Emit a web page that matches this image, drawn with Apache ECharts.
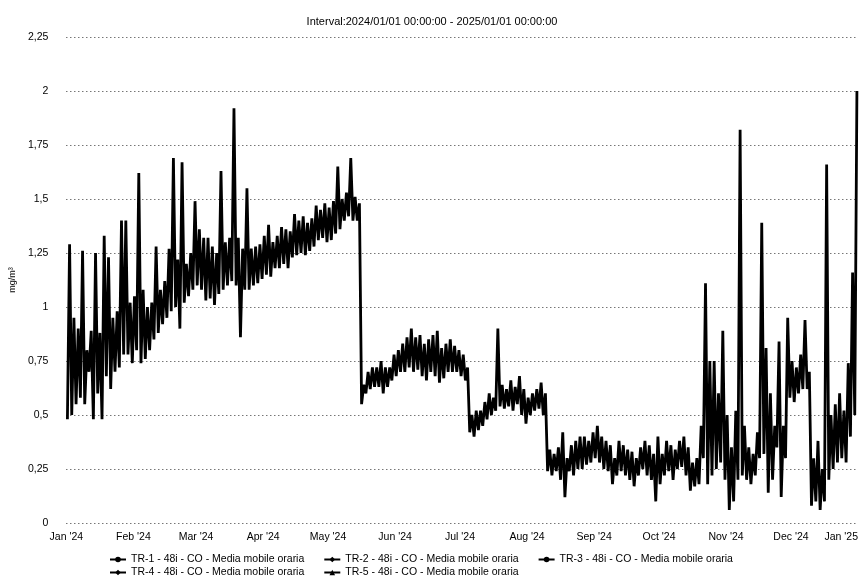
<!DOCTYPE html>
<html>
<head>
<meta charset="utf-8">
<script src="https://cdn.jsdelivr.net/npm/echarts@6/dist/echarts.min.js"></script>
<style>
  html, body { margin: 0; padding: 0; background: #fff; }
  #main { width: 864px; height: 588px; }
</style>
</head>
<body>
<div id="main"></div>
<script>
// 2-day bins from 2024-01-01: low and high of the hourly moving average (mg/m³)
const lowValues = [
  0.48, 0.5, 0.55, 0.58, 0.55, 0.7, 0.48, 0.6, 0.48, 0.68,
  0.62, 0.7, 0.72, 0.78, 0.78, 0.74, 0.8, 0.74, 0.76, 0.8,
  0.85, 0.88, 0.92, 0.95, 0.98, 1.0, 0.9, 1.02, 1.05, 1.08,
  1.1, 1.08, 1.03, 1.04, 1.01, 1.06, 1.08, 1.1, 1.12, 1.1,
  0.86, 1.08, 1.08, 1.1, 1.11, 1.13, 1.15, 1.14, 1.18, 1.18,
  1.2, 1.18, 1.23, 1.24, 1.25, 1.24, 1.26, 1.28, 1.31, 1.32,
  1.3, 1.31, 1.34, 1.36, 1.4, 1.42, 1.4, 1.4, 0.55, 0.6,
  0.62, 0.63, 0.63, 0.6, 0.63, 0.66, 0.68, 0.7, 0.7, 0.72,
  0.7, 0.71, 0.68, 0.66, 0.7, 0.68, 0.65, 0.67, 0.7, 0.7,
  0.7, 0.68, 0.66, 0.42, 0.4, 0.43, 0.45, 0.48, 0.5, 0.52,
  0.54, 0.53, 0.54, 0.52, 0.55, 0.5, 0.46, 0.5, 0.52, 0.53,
  0.5, 0.24, 0.22, 0.24, 0.2, 0.12, 0.24, 0.22, 0.25, 0.25,
  0.27, 0.28, 0.3, 0.28, 0.25, 0.24, 0.18, 0.22, 0.24, 0.22,
  0.2, 0.17, 0.22, 0.25, 0.22, 0.2, 0.1, 0.18, 0.22, 0.24,
  0.2, 0.25, 0.26, 0.22, 0.15, 0.17, 0.18, 0.3, 0.18, 0.22,
  0.25, 0.28, 0.2, 0.06, 0.1, 0.2, 0.22, 0.2, 0.18, 0.22,
  0.3, 0.32, 0.14, 0.2, 0.35, 0.12, 0.3, 0.58, 0.56, 0.6,
  0.62, 0.62, 0.08, 0.1, 0.06, 0.1, 0.2, 0.25, 0.28, 0.3,
  0.28, 0.4, 0.5
]
const highValues = [
  1.29, 0.95, 0.9, 1.26, 0.8, 0.89, 1.25, 0.88, 1.33, 1.23,
  0.95, 0.98, 1.4, 1.4, 1.02, 1.05, 1.62, 1.08, 1.0, 1.02,
  1.28, 1.08, 1.12, 1.27, 1.69, 1.22, 1.67, 1.2, 1.25, 1.49,
  1.36, 1.32, 1.32, 1.28, 1.25, 1.63, 1.3, 1.32, 1.92, 1.32,
  1.27, 1.55, 1.27, 1.28, 1.29, 1.33, 1.38, 1.3, 1.33, 1.37,
  1.36, 1.35, 1.43, 1.4, 1.42, 1.39, 1.41, 1.47, 1.45, 1.48,
  1.46, 1.49, 1.65, 1.5, 1.53, 1.69, 1.51, 1.48, 0.64, 0.7,
  0.72, 0.72, 0.75, 0.72, 0.72, 0.78, 0.8, 0.83, 0.86, 0.9,
  0.86, 0.87, 0.83, 0.85, 0.87, 0.89, 0.81, 0.83, 0.85, 0.82,
  0.8, 0.78, 0.72, 0.5, 0.52, 0.52, 0.56, 0.6, 0.58, 0.9,
  0.64, 0.62, 0.66, 0.63, 0.68, 0.62, 0.58, 0.6, 0.62, 0.65,
  0.6, 0.34, 0.32, 0.35, 0.42, 0.3, 0.36, 0.38, 0.4, 0.4,
  0.38, 0.42, 0.45, 0.4, 0.38, 0.36, 0.3, 0.38, 0.36, 0.34,
  0.33, 0.3, 0.35, 0.38, 0.36, 0.32, 0.4, 0.32, 0.38, 0.36,
  0.34, 0.38, 0.4, 0.35, 0.28, 0.3, 0.45, 1.11, 0.75, 0.75,
  0.6, 0.89, 0.5, 0.35, 0.52, 1.82, 0.45, 0.35, 0.32, 0.42,
  1.39, 0.81, 0.6, 0.45, 0.84, 0.45, 0.95, 0.75, 0.72, 0.78,
  0.94, 0.7, 0.3, 0.38, 0.25, 1.66, 0.5, 0.55, 0.6, 0.52,
  0.74, 1.16, 2.0
]
const seriesNames = [
  'TR-1 - 48i - CO - Media mobile oraria',
  'TR-2 - 48i - CO - Media mobile oraria',
  'TR-3 - 48i - CO - Media mobile oraria',
  'TR-4 - 48i - CO - Media mobile oraria',
  'TR-5 - 48i - CO - Media mobile oraria'
]
const seriesSymbols = ['circle', 'diamond', 'circle', 'diamond', 'triangle']
const monthNames = ['Jan', 'Feb', 'Mar', 'Apr', 'May', 'Jun', 'Jul', 'Aug', 'Sep', 'Oct', 'Nov', 'Dec']

const startTime = new Date(2024, 0, 1).getTime()
const endTime = new Date(2025, 0, 1).getTime()
const DAY = 24 * 3600 * 1000

// low then high inside every bin, so the hourly noise shows as a thick band
const tr1Data = []
lowValues.forEach((lo, i) => {
    tr1Data.push([startTime + (2 * i + 0.5) * DAY, lo])
    tr1Data.push([startTime + (2 * i + 1.5) * DAY, highValues[i]])
})

const font = 'Liberation Sans, Arial, sans-serif'
const myChart = echarts.init(document.getElementById('main'))

const legendBase = {
    itemGap: 19,
    itemWidth: 16,
    itemHeight: 7,
    padding: 0,
    textStyle: { fontFamily: font, fontSize: 10.5, color: '#000' }
}

myChart.setOption({
    animation: false,
    backgroundColor: '#fff',
    title: {
        text: 'Interval:2024/01/01 00:00:00 - 2025/01/01 00:00:00',
        left: 'center',
        top: 11,
        textStyle: { fontFamily: font, fontSize: 11, fontWeight: 'normal', color: '#000' }
    },
    legend: [
        Object.assign({ data: seriesNames.slice(0, 3), left: 109, top: 554 }, legendBase),
        Object.assign({ data: seriesNames.slice(3), left: 109, top: 567 }, legendBase)
    ],
    grid: { left: 66, right: 6, top: 37, bottom: 65 },
    xAxis: {
        type: 'time',
        min: startTime,
        max: endTime,
        splitNumber: 12,
        axisLine: { show: false },
        axisTick: { show: false },
        splitLine: { show: false },
        axisLabel: {
            margin: 9,
            color: '#000',
            fontFamily: font,
            fontSize: 10.5,
            showMinLabel: true,
            showMaxLabel: true,
            alignMaxLabel: 'right',
            formatter: (v) => {
                const d = new Date(v)
                return monthNames[d.getMonth()] + " '" + String(d.getFullYear()).slice(2)
            }
        }
    },
    yAxis: {
        type: 'value',
        min: 0,
        max: 2.25,
        interval: 0.25,
        name: 'mg/m³',
        nameLocation: 'middle',
        nameGap: 48,
        nameTextStyle: { fontFamily: font, fontSize: 9, color: '#000' },
        axisLine: { show: false },
        axisTick: { show: false },
        axisLabel: {
            margin: 18,
            color: '#000',
            fontFamily: font,
            fontSize: 10.5,
            formatter: (v) => String(v).replace('.', ',')
        },
        splitLine: { lineStyle: { color: '#333', type: [1, 3], width: 1 } }
    },
    series: seriesNames.map((name, k) => ({
        name: name,
        type: 'line',
        data: k === 0 ? tr1Data : [],
        symbol: seriesSymbols[k],
        symbolSize: 6,
        showSymbol: false,
        color: '#000',
        lineStyle: { color: '#000', width: 2.8 }
    }))
})
</script>
</body>
</html>
